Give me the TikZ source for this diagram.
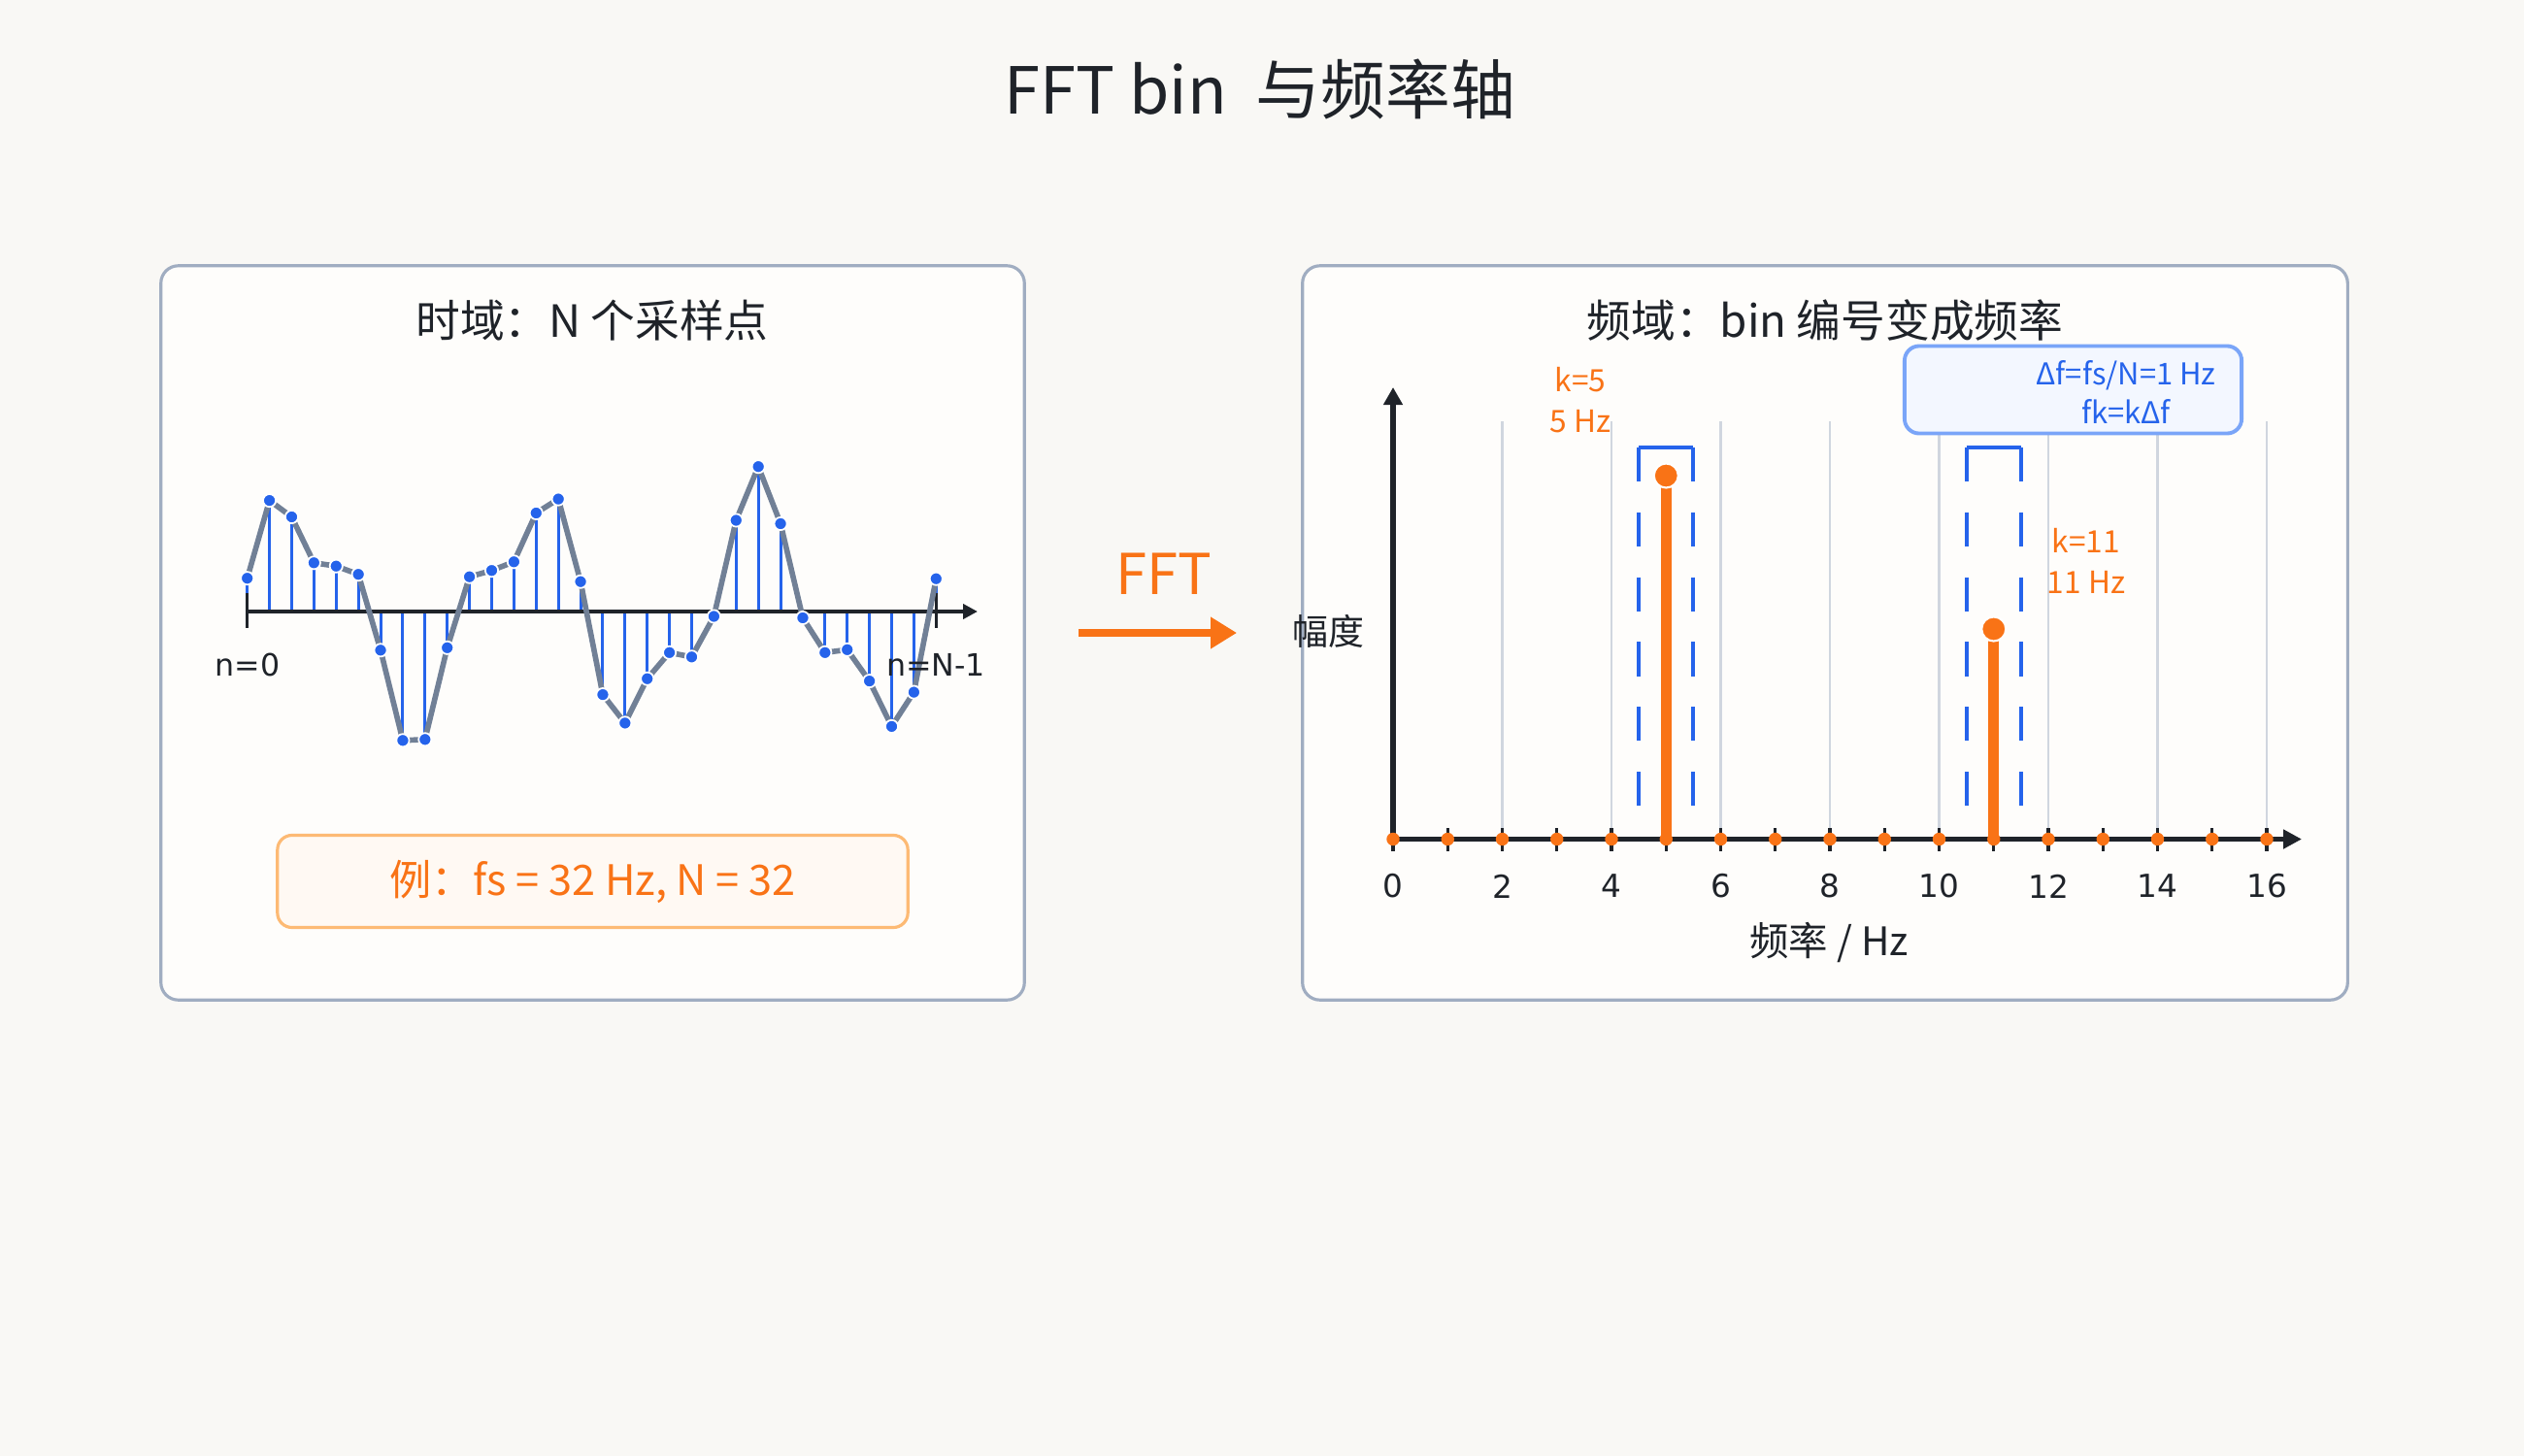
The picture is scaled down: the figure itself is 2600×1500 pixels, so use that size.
\documentclass[tikz,border=0pt]{standalone}
\usepackage{fontspec}
\setmainfont{Noto Sans CJK SC}
\newfontfamily\numfont{DejaVu Sans}
\usepackage{xcolor}
\usepackage{tikz}
\usetikzlibrary{arrows.meta,positioning}
\definecolor{bg}{HTML}{F9F8F5}
\definecolor{panelfill}{HTML}{FEFDFB}
\definecolor{panelline}{HTML}{A0ADC1}
\definecolor{ink}{HTML}{1F2329}
\definecolor{sampleblue}{HTML}{2563EB}
\definecolor{wavegray}{HTML}{718096}
\definecolor{fftorange}{HTML}{F97316}
\definecolor{exline}{HTML}{FDBA74}
\definecolor{exfill}{HTML}{FFF9F3}
\definecolor{infoline}{HTML}{7AA5F8}
\definecolor{infofill}{HTML}{F3F7FF}
\definecolor{gridgray}{HTML}{D0D6DF}

\begin{document}
\begin{tikzpicture}[
  x=0.01cm,y=-0.01cm,
  panel/.style={draw=panelline,line width=0.9pt,rounded corners=1.8mm,fill=panelfill,minimum height=7.56cm,inner sep=0pt},
  heading/.style={text=ink,font=\fontsize{13}{16}\selectfont},
  stem/.style={draw=sampleblue,line width=0.85pt},
  wave/.style={draw=wavegray,line width=1.6pt,line join=round},
  sampledot/.style={fill=sampleblue,draw=white,line width=0.5pt},
  axis/.style={draw=ink,line width=1.2pt,-{Triangle[length=1.5mm,width=1.5mm]}},
  nlabel/.style={text=ink,font=\numfont\fontsize{9}{11}\selectfont},
  examplebox/.style={draw=exline,line width=0.9pt,fill=exfill,rounded corners=1.5mm,minimum width=6.49cm,minimum height=0.95cm,text=fftorange,font=\fontsize{12.3}{14}\selectfont},
  arrow/.style={draw=fftorange,line width=2.3pt,-{Triangle[length=2.7mm,width=3.1mm]}},
  gridline/.style={draw=gridgray,line width=0.6pt},
  binedge/.style={draw=sampleblue,line width=1.1pt},
  bindash/.style={binedge,dash pattern=on 10pt off 9pt},
  peak/.style={draw=fftorange,line width=3.1pt},
  peakdot/.style={fill=fftorange,draw=white,line width=0.6pt},
  peaklabel/.style={text=fftorange,align=center,font=\fontsize{9}{12}\selectfont},
  ticklabel/.style={text=ink,font=\numfont\fontsize{9.3}{11}\selectfont},
  infobox/.style={draw=infoline,line width=1.1pt,fill=infofill,rounded corners=1.5mm,minimum width=3.47cm,minimum height=0.9cm},
  infotext/.style={text=sampleblue,align=center,font=\fontsize{8.8}{11.4}\selectfont}
]
\fill[bg] (0,0) rectangle (2600,1500);
\useasboundingbox (0,0) rectangle (2600,1500);

\node[text=ink,font=\fontsize{19}{23}\selectfont] (title) at (1298,92) {FFT\ bin\ \ 与频率轴};

% time domain
\node[panel,minimum width=8.89cm] (tpanel) at (610.5,652) {};
\node[heading] (theading) at (610,330) {时域：N 个采样点};

\coordinate (tend) at (1007,630);
\foreach \v [count=\i from 0] in {34.3,114.4,97.5,50.2,46.8,38.3,-39.8,-132.8,-131.8,-37.3,35.8,42.3,51.2,101.5,115.9,30.8,-85.6,-114.9,-69.2,-42.3,-46.8,-5.0,94.0,149.3,90.5,-6.5,-42.3,-39.3,-71.6,-118.4,-83.1,33.8} {
  \coordinate (s\i) at (254.7+22.89*\i,630-\v);
  \coordinate (b\i) at (254.7+22.89*\i,630);
}
\foreach \i in {0,...,31}
  \draw[stem] (b\i) -- (s\i);
\draw[axis] (b0) -- (tend);
\draw[draw=ink,line width=0.9pt] (254.7,611) -- (254.7,647);
\draw[draw=ink,line width=0.9pt] (964.3,611) -- (964.3,647);
\draw[wave] (s0) \foreach \i in {1,...,31} {-- (s\i)};
\foreach \i in {0,...,31}
  \filldraw[sampledot] (s\i) circle[radius=0.066cm];

\node[nlabel] (n0) at (255,685) {n=0};
\node[nlabel] (nlast) at (964,685) {n=N-1};

\node[examplebox] (example) at (610.5,908) {例：fs = 32 Hz, N = 32};

% frequency domain
\node[panel,minimum width=10.76cm] (fpanel) at (1880,652) {};
\node[heading] (fheading) at (1880,330) {频域：bin 编号变成频率};

\draw[arrow,shorten <=0.54cm,shorten >=0.66cm] (tpanel.east) -- (fpanel.west)
  node[midway,above=0.24cm,text=fftorange,font=\fontsize{16.5}{19}\selectfont] (fftlabel) {FFT};

\foreach \f in {2,4,...,16}
  \draw[gridline] (1435+56.25*\f,434) -- (1435+56.25*\f,864.5);

\node[infobox] (info) at (2135.5,401.5) {};
\node[infotext] (infotext) at (2190,404) {Δf=fs/N=1 Hz\\fk=kΔf};

\foreach \k in {5,11} {
  \draw[binedge] (1435+56.25*\k-28.1,461) -- (1435+56.25*\k+28.1,461);
  \draw[bindash] (1435+56.25*\k-28.1,461) -- (1435+56.25*\k-28.1,864.5);
  \draw[bindash] (1435+56.25*\k+28.1,461) -- (1435+56.25*\k+28.1,864.5);
}

\coordinate (origin) at (1435,864.5);
\draw[axis,line width=1.7pt,-{Triangle[length=1.8mm,width=1.9mm]}] (origin) -- (1435,399);
\draw[axis,line width=1.7pt,-{Triangle[length=1.9mm,width=1.9mm]}] (origin) -- (2371,864.5);

\foreach \f in {0,...,16} {
  \draw[draw=ink,line width=0.9pt] (1435+56.25*\f,853) -- (1435+56.25*\f,877);
  \fill[fftorange] (1435+56.25*\f,864.5) circle[radius=0.067cm];
}
\foreach \f in {0,2,...,16}
  \node[ticklabel] at (1435+56.25*\f,913) {\f};

\coordinate (k5base) at (1716.25,864.5);
\coordinate (k5top) at (1716.25,490);
\coordinate (k11base) at (2053.75,864.5);
\coordinate (k11top) at (2053.75,648);
\draw[peak] (k5base) -- (k5top);
\draw[peak] (k11base) -- (k11top);
\filldraw[peakdot] (k5top) circle[radius=0.125cm];
\filldraw[peakdot] (k11top) circle[radius=0.125cm];

\node[peaklabel] (k5label) at (1628,412) {k=5\\5 Hz};
\node[peaklabel] (k11label) at (2149,578) {k=11\\11 Hz};

\node[text=ink,font=\fontsize{10.5}{13}\selectfont] (ylabel) at (1368,650) {幅度};
\node[text=ink,font=\fontsize{11.5}{13}\selectfont] (xlabel) at (1884,971) {频率 / Hz};
\end{tikzpicture}
\end{document}
